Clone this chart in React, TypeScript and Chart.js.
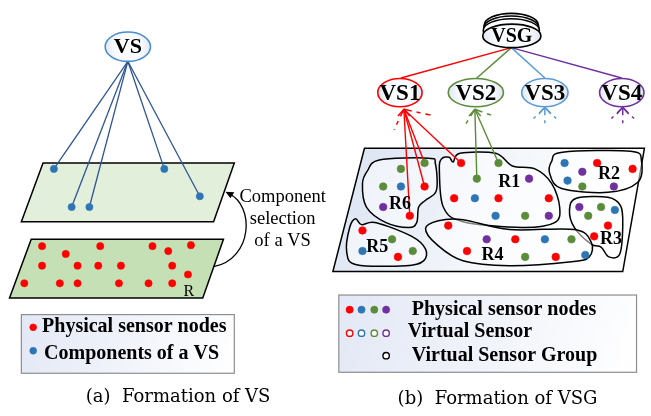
import React, { useEffect, useRef } from "react";
import { Chart, registerables } from "chart.js";
Chart.register(...registerables);

type P = [number, number];

// ---------- Panel (a): Formation of VS ----------
const vsAnchor: P = [125, 58];
const leftBlueNodes: P[] = [[50, 168], [162, 168], [198, 196], [68, 207], [86, 207]];
const leftRedNodes: P[] = [
  [38, 247], [62, 255], [97, 247], [150, 247], [166, 252], [189, 246],
  [38, 267], [74, 267], [95, 267], [118, 267], [170, 267], [186, 276],
  [20, 285], [56, 285], [74, 285], [116, 285], [146, 285], [170, 285],
];
const topPlane: P[] = [[39, 162], [233, 162], [212, 222], [17, 222]];
const bottomPlane: P[] = [[27, 240], [222, 240], [201, 300], [5, 300]];
const legendADots: P[] = [[29, 330], [29, 354]];
const legendALabels = ["Physical sensor nodes", "Components of a VS"];
const selectionLabels = ["Component", "selection", "of a VS"];

// ---------- Panel (b): Formation of VSG ----------
const vsgAnchor: P = [514, 44];
const vsTops: P[] = [[402, 75], [479, 75], [548, 75], [626, 75]];
const vsNames = ["VS1", "VS2", "VS3", "VS4"];
const vs1Anchor: P = [405, 107];
const vs1Targets: P[] = [[411, 216], [426, 186], [426, 162], [463, 162]];
const vs2Anchor: P = [477, 107];
const vs2Targets: P[] = [[479, 178], [501, 162]];
const vs1Stubs: P[] = [[395, 128], [432, 113]];
const vs2Stubs: P[] = [[466, 125], [496, 114]];
const vs3Anchor: P = [548, 105];
const vs3Stubs: P[] = [[533, 120], [548, 125], [563, 120]];
const vs4Anchor: P = [627, 105];
const vs4Stubs: P[] = [[612, 120], [627, 125], [642, 120]];

const redNodes: P[] = [
  [426, 186], [411, 216], [463, 162], [456, 198], [501, 198], [552, 198], [601, 162], [637, 168],
  [612, 226], [598, 237], [450, 226], [518, 240], [469, 252], [559, 258], [363, 231], [399, 258],
];
const blueNodes: P[] = [
  [402, 186], [477, 198], [498, 216], [568, 162], [571, 180], [619, 210], [548, 240], [589, 256], [363, 252],
];
const greenNodes: P[] = [
  [402, 168], [426, 162], [384, 186], [501, 162], [479, 178], [528, 216], [586, 186], [605, 207],
  [592, 216], [575, 240], [528, 258], [393, 240], [414, 252],
];
const purpleNodes: P[] = [[384, 207], [532, 178], [552, 216], [586, 171], [618, 186], [583, 207], [489, 240]];

const fieldPlane: P[] = [[365, 147], [649, 147], [627, 273], [333, 273]];
const regionNames = ["R1", "R2", "R3", "R4", "R5", "R6"];
const regionLabelPos: P[] = [[512, 182], [613, 174], [615, 240], [495, 256], [378, 248], [401, 204]];
const regionOutlines: P[][] = [
  [[441, 170], [443, 158], [451, 156], [455, 161], [462, 152], [498, 152], [515, 165], [538, 168], [555, 183], [563, 207], [558, 223], [525, 228], [465, 222], [445, 207]],
  [[555, 160], [566, 151], [635, 150], [646, 160], [642, 182], [612, 192], [565, 188], [553, 173]],
  [[573, 210], [580, 198], [612, 197], [625, 206], [627, 227], [624, 255], [613, 258], [605, 248], [595, 245], [578, 228]],
  [[427, 229], [440, 221], [465, 220], [512, 230], [578, 230], [595, 243], [593, 258], [575, 263], [512, 267], [465, 262], [438, 245]],
  [[350, 228], [356, 219], [362, 225], [377, 223], [413, 237], [427, 250], [425, 262], [407, 267], [357, 266], [347, 253]],
  [[368, 170], [380, 159], [430, 157], [437, 163], [438, 190], [427, 200], [420, 207], [418, 223], [410, 228], [387, 223], [367, 207], [363, 183]],
];
const legendBFilled: P[] = [[350, 312], [362, 312], [375, 312], [387, 312]];
const legendBHollow: P[] = [[350, 336], [362, 336], [375, 336], [387, 336]];
const legendBGroup: P[] = [[387, 359]];
const legendBLabels = ["Physical sensor nodes", "Virtual Sensor", "Virtual Sensor Group"];
const captions = ["(a)  Formation of VS", "(b)  Formation of VSG"];

const RED = "#ff0000";
const BLUE = "#2e75b6";
const GREEN = "#5b8c3a";
const PURPLE = "#7030a0";
const VS3BLUE = "#5b9bd5";
const SERIF = '"Liberation Serif", "Times New Roman", serif';

const xy = (p: P) => ({ x: p[0], y: p[1] });

export default function App() {
  const ref = useRef<HTMLCanvasElement>(null);

  useEffect(() => {
    document.body.style.margin = "0";
    const canvas = ref.current!;
    const datasets: any[] = [];

    const addLinks = (from: P, tos: P[], color: string | string[], width = 1.4, dash: number[] = []) => {
      tos.forEach((t, i) =>
        datasets.push({
          type: "line",
          data: [xy(from), xy(t)],
          borderColor: Array.isArray(color) ? color[i] : color,
          borderWidth: width,
          borderDash: dash,
          pointRadius: 0,
          pointHoverRadius: 0,
          showLine: true,
          fill: false,
          tension: 0,
          clip: false,
          order: 2,
        })
      );
    };
    const addDots = (pts: P[], color: string, r: number, hollow = false) =>
      datasets.push({
        type: "scatter",
        data: pts.map(xy),
        pointRadius: r,
        pointHoverRadius: r,
        backgroundColor: hollow ? "#ffffff" : color,
        borderColor: color,
        borderWidth: hollow ? 1.4 : 0.6,
        clip: false,
        order: 1,
      });

    addLinks(vsAnchor, leftBlueNodes, "#2f5597", 1.3);
    addLinks(vsgAnchor, vsTops, [RED, GREEN, VS3BLUE, PURPLE], 1.5);
    addLinks(vs1Anchor, vs1Targets, RED, 1.4);
    addLinks(vs2Anchor, vs2Targets, GREEN, 1.4);
    addLinks(vs1Anchor, vs1Stubs, RED, 1.5, [8, 5, 4, 5]);
    addLinks(vs2Anchor, vs2Stubs, GREEN, 1.5, [8, 5, 4, 5]);
    addLinks(vs3Anchor, vs3Stubs, VS3BLUE, 1.5, [8, 5, 3, 5]);
    addLinks(vs4Anchor, vs4Stubs, PURPLE, 1.5, [8, 5, 3, 5]);

    addDots(leftRedNodes, RED, 3.6);
    addDots(leftBlueNodes, BLUE, 3.6);
    addDots([legendADots[0]], RED, 3.4);
    addDots([legendADots[1]], BLUE, 3.4);
    addDots(redNodes, RED, 3.8);
    addDots(blueNodes, BLUE, 3.8);
    addDots(greenNodes, GREEN, 3.8);
    addDots(purpleNodes, PURPLE, 3.8);
    [RED, BLUE, GREEN, PURPLE].forEach((c, i) => {
      addDots([legendBFilled[i]], c, 3.6);
      addDots([legendBHollow[i]], c, 3.2, true);
    });
    addDots(legendBGroup, "#000000", 3.2, true);

    const plugin = {
      id: "diagram",
      beforeDatasetsDraw(chart: any) {
        const ctx: CanvasRenderingContext2D = chart.ctx;
        const sx = chart.scales.x, sy = chart.scales.y;
        const X = (v: number) => sx.getPixelForValue(v);
        const Y = (v: number) => sy.getPixelForValue(v);
        const poly = (pts: P[]) => {
          ctx.beginPath();
          pts.forEach((p, i) => (i ? ctx.lineTo(X(p[0]), Y(p[1])) : ctx.moveTo(X(p[0]), Y(p[1]))));
          ctx.closePath();
        };
        const blob = (pts: P[]) => {
          const n = pts.length;
          const q = pts.map((p) => [X(p[0]), Y(p[1])]);
          ctx.beginPath();
          ctx.moveTo(q[0][0], q[0][1]);
          for (let i = 0; i < n; i++) {
            const p0 = q[(i - 1 + n) % n], p1 = q[i], p2 = q[(i + 1) % n], p3 = q[(i + 2) % n];
            ctx.bezierCurveTo(
              p1[0] + (p2[0] - p0[0]) / 6, p1[1] + (p2[1] - p0[1]) / 6,
              p2[0] - (p3[0] - p1[0]) / 6, p2[1] - (p3[1] - p1[1]) / 6,
              p2[0], p2[1]
            );
          }
          ctx.closePath();
        };
        ctx.save();
        ctx.lineJoin = "miter";
        poly(bottomPlane);
        ctx.fillStyle = "#c5e0b4";
        ctx.fill();
        ctx.strokeStyle = "#000";
        ctx.lineWidth = 1.5;
        ctx.stroke();
        poly(topPlane);
        ctx.fillStyle = "#e2efda";
        ctx.fill();
        ctx.stroke();
        poly(fieldPlane);
        const g = ctx.createLinearGradient(X(333), Y(147), X(600), Y(273));
        g.addColorStop(0, "#d9e2f2");
        g.addColorStop(0.6, "#f4f7fb");
        g.addColorStop(1, "#ffffff");
        ctx.fillStyle = g;
        ctx.fill();
        ctx.lineWidth = 1.5;
        ctx.stroke();
        regionOutlines.forEach((r) => {
          blob(r);
          ctx.fillStyle = "rgba(255,255,255,0.5)";
          ctx.fill();
          ctx.lineWidth = 1.5;
          ctx.strokeStyle = "#000";
          ctx.stroke();
        });
        const box = (x0: number, y0: number, x1: number, y1: number) => {
          const gr = ctx.createLinearGradient(X(x0), Y(y0), X(x1), Y(y1));
          gr.addColorStop(0, "#e2e8f5");
          gr.addColorStop(1, "#ffffff");
          ctx.fillStyle = gr;
          ctx.fillRect(X(x0), Y(y0), X(x1) - X(x0), Y(y1) - Y(y0));
          ctx.strokeStyle = "#8e8e8e";
          ctx.lineWidth = 1.2;
          ctx.strokeRect(X(x0), Y(y0), X(x1) - X(x0), Y(y1) - Y(y0));
        };
        box(17, 317, 233, 377);
        box(339, 297, 641, 376);
        ctx.restore();
      },
      afterDatasetsDraw(chart: any) {
        const ctx: CanvasRenderingContext2D = chart.ctx;
        const sx = chart.scales.x, sy = chart.scales.y;
        const X = (v: number) => sx.getPixelForValue(v);
        const Y = (v: number) => sy.getPixelForValue(v);
        ctx.save();
        const ellipse = (cx: number, cy: number, rx: number, ry: number, stroke: string, lw = 1.5, plain = false) => {
          ctx.beginPath();
          ctx.ellipse(X(cx), Y(cy), Math.abs(X(cx + rx) - X(cx)), Math.abs(Y(cy + ry) - Y(cy)), 0, 0, Math.PI * 2);
          if (plain) {
            ctx.fillStyle = "#ffffff";
          } else {
            const gr = ctx.createRadialGradient(X(cx), Y(cy), 2, X(cx), Y(cy), rx);
            gr.addColorStop(0, "#ffffff");
            gr.addColorStop(0.6, "#f7f9fc");
            gr.addColorStop(1, "#dfe6f2");
            ctx.fillStyle = gr;
          }
          ctx.fill();
          ctx.strokeStyle = stroke;
          ctx.lineWidth = lw;
          ctx.stroke();
        };
        const text = (s: string, x: number, y: number, font: string, align: CanvasTextAlign = "center") => {
          ctx.font = font;
          ctx.textAlign = align;
          ctx.textBaseline = "middle";
          ctx.fillStyle = "#000";
          ctx.fillText(s, X(x), Y(y));
        };
        ellipse(125, 43, 23, 15, "#4a8cc8", 1.5);
        text("VS", 125, 44, `bold 22px ${SERIF}`);
        ellipse(514, 21, 27.5, 12, "#000", 1.6, true);
        ellipse(514, 23.7, 28, 12, "#000", 1.6, true);
        ellipse(514, 26.4, 28.5, 12, "#000", 1.6, true);
        ellipse(514.5, 32, 29.5, 12, "#000", 1.6);
        text("VSG", 514.5, 33, `bold 20px ${SERIF}`);
        const vsCols = [RED, GREEN, VS3BLUE, PURPLE];
        const vsC: P[] = [[401, 90], [478, 90], [548, 90], [626, 90]];
        const vsR = [22.5, 28, 23.5, 22.5];
        vsC.forEach((c, i) => {
          ellipse(c[0], c[1], vsR[i], 14.5, vsCols[i], 1.6);
          text(vsNames[i], c[0], c[1] + 1, `bold 23px ${SERIF}`);
        });
        const chev = (a: P, col: string) => {
          ctx.beginPath();
          ctx.moveTo(X(a[0] - 6), Y(a[1] + 7));
          ctx.lineTo(X(a[0]), Y(a[1]));
          ctx.lineTo(X(a[0] + 6), Y(a[1] + 7));
          ctx.strokeStyle = col;
          ctx.lineWidth = 1.4;
          ctx.stroke();
        };
        chev(vs1Anchor, RED);
        chev(vs2Anchor, GREEN);
        chev(vs3Anchor, VS3BLUE);
        chev(vs4Anchor, PURPLE);
        regionNames.forEach((n, i) => text(n, regionLabelPos[i][0], regionLabelPos[i][1], `bold 18px ${SERIF}`));
        text("R", 187, 294, `16px ${SERIF}`);
        ctx.beginPath();
        ctx.moveTo(X(212), Y(268));
        ctx.bezierCurveTo(X(252), Y(260), X(254), Y(205), X(227), Y(193));
        ctx.strokeStyle = "#000";
        ctx.lineWidth = 1.3;
        ctx.stroke();
        ctx.beginPath();
        ctx.moveTo(X(224), Y(191.5));
        ctx.lineTo(X(233), Y(192));
        ctx.lineTo(X(229), Y(198));
        ctx.closePath();
        ctx.fillStyle = "#000";
        ctx.fill();
        selectionLabels.forEach((s, i) => text(s, 282, 197 + i * 22.5, `18.5px ${SERIF}`));
        legendALabels.forEach((s, i) => text(s, [38, 40][i], [330, 357][i], `bold 20px ${SERIF}`, "left"));
        legendBLabels.forEach((s, i) => text(s, [413, 409, 413][i], [312, 335, 359][i], `bold 20px ${SERIF}`, "left"));
        text(captions[0], 176, 402, `18px "DejaVu Serif", serif`);
        text(captions[1], 500, 404, `18px "DejaVu Serif", serif`);
        ctx.restore();
      },
    };

    const chart = new Chart(canvas, {
      type: "scatter",
      data: { datasets },
      options: {
        animation: false,
        responsive: false,
        events: [],
        layout: { padding: 0 },
        scales: {
          x: { type: "linear", min: 0, max: 651, display: false },
          y: { type: "linear", min: 0, max: 416, reverse: true, display: false },
        },
        plugins: { legend: { display: false }, tooltip: { enabled: false } },
      },
      plugins: [plugin],
    } as any);
    return () => chart.destroy();
  }, []);

  return (
    <div style={{ position: "absolute", left: 0, top: 0, width: 651, height: 416, background: "#fff" }}>
      <canvas ref={ref} width={651} height={416} style={{ width: 651, height: 416, display: "block" }} />
    </div>
  );
}
